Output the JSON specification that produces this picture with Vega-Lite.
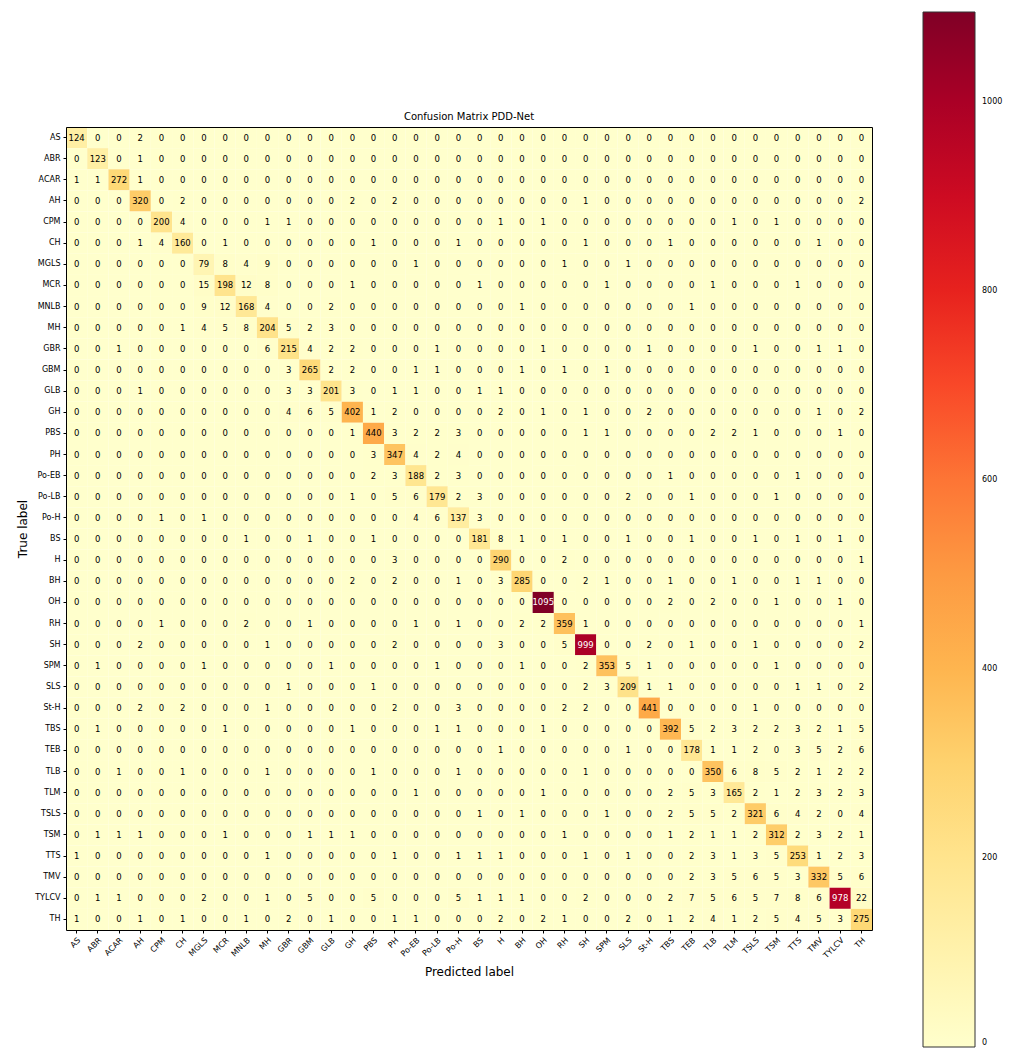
{
"$schema": "https://vega.github.io/schema/vega-lite/v6.json",
"width": 806,
"height": 803,
"autosize": "none",
"padding": {"left": 66, "top": 127, "right": 138, "bottom": 120},
"background": "white",
"title": {"text": "Confusion Matrix PDD-Net", "frame": "group", "fontSize": 10, "fontWeight": "normal", "color": "black", "font": "DejaVu Sans", "offset": 4, "dy": 114},
"data": {"values": [
{"t":"AS","p":"AS","v":124},{"t":"AS","p":"ABR","v":0},{"t":"AS","p":"ACAR","v":0},{"t":"AS","p":"AH","v":2},{"t":"AS","p":"CPM","v":0},{"t":"AS","p":"CH","v":0},{"t":"AS","p":"MGLS","v":0},{"t":"AS","p":"MCR","v":0},{"t":"AS","p":"MNLB","v":0},{"t":"AS","p":"MH","v":0},{"t":"AS","p":"GBR","v":0},{"t":"AS","p":"GBM","v":0},{"t":"AS","p":"GLB","v":0},{"t":"AS","p":"GH","v":0},{"t":"AS","p":"PBS","v":0},{"t":"AS","p":"PH","v":0},{"t":"AS","p":"Po-EB","v":0},{"t":"AS","p":"Po-LB","v":0},{"t":"AS","p":"Po-H","v":0},{"t":"AS","p":"BS","v":0},{"t":"AS","p":"H","v":0},{"t":"AS","p":"BH","v":0},{"t":"AS","p":"OH","v":0},{"t":"AS","p":"RH","v":0},{"t":"AS","p":"SH","v":0},{"t":"AS","p":"SPM","v":0},{"t":"AS","p":"SLS","v":0},{"t":"AS","p":"St-H","v":0},{"t":"AS","p":"TBS","v":0},{"t":"AS","p":"TEB","v":0},{"t":"AS","p":"TLB","v":0},{"t":"AS","p":"TLM","v":0},{"t":"AS","p":"TSLS","v":0},{"t":"AS","p":"TSM","v":0},{"t":"AS","p":"TTS","v":0},{"t":"AS","p":"TMV","v":0},{"t":"AS","p":"TYLCV","v":0},{"t":"AS","p":"TH","v":0},
{"t":"ABR","p":"AS","v":0},{"t":"ABR","p":"ABR","v":123},{"t":"ABR","p":"ACAR","v":0},{"t":"ABR","p":"AH","v":1},{"t":"ABR","p":"CPM","v":0},{"t":"ABR","p":"CH","v":0},{"t":"ABR","p":"MGLS","v":0},{"t":"ABR","p":"MCR","v":0},{"t":"ABR","p":"MNLB","v":0},{"t":"ABR","p":"MH","v":0},{"t":"ABR","p":"GBR","v":0},{"t":"ABR","p":"GBM","v":0},{"t":"ABR","p":"GLB","v":0},{"t":"ABR","p":"GH","v":0},{"t":"ABR","p":"PBS","v":0},{"t":"ABR","p":"PH","v":0},{"t":"ABR","p":"Po-EB","v":0},{"t":"ABR","p":"Po-LB","v":0},{"t":"ABR","p":"Po-H","v":0},{"t":"ABR","p":"BS","v":0},{"t":"ABR","p":"H","v":0},{"t":"ABR","p":"BH","v":0},{"t":"ABR","p":"OH","v":0},{"t":"ABR","p":"RH","v":0},{"t":"ABR","p":"SH","v":0},{"t":"ABR","p":"SPM","v":0},{"t":"ABR","p":"SLS","v":0},{"t":"ABR","p":"St-H","v":0},{"t":"ABR","p":"TBS","v":0},{"t":"ABR","p":"TEB","v":0},{"t":"ABR","p":"TLB","v":0},{"t":"ABR","p":"TLM","v":0},{"t":"ABR","p":"TSLS","v":0},{"t":"ABR","p":"TSM","v":0},{"t":"ABR","p":"TTS","v":0},{"t":"ABR","p":"TMV","v":0},{"t":"ABR","p":"TYLCV","v":0},{"t":"ABR","p":"TH","v":0},
{"t":"ACAR","p":"AS","v":1},{"t":"ACAR","p":"ABR","v":1},{"t":"ACAR","p":"ACAR","v":272},{"t":"ACAR","p":"AH","v":1},{"t":"ACAR","p":"CPM","v":0},{"t":"ACAR","p":"CH","v":0},{"t":"ACAR","p":"MGLS","v":0},{"t":"ACAR","p":"MCR","v":0},{"t":"ACAR","p":"MNLB","v":0},{"t":"ACAR","p":"MH","v":0},{"t":"ACAR","p":"GBR","v":0},{"t":"ACAR","p":"GBM","v":0},{"t":"ACAR","p":"GLB","v":0},{"t":"ACAR","p":"GH","v":0},{"t":"ACAR","p":"PBS","v":0},{"t":"ACAR","p":"PH","v":0},{"t":"ACAR","p":"Po-EB","v":0},{"t":"ACAR","p":"Po-LB","v":0},{"t":"ACAR","p":"Po-H","v":0},{"t":"ACAR","p":"BS","v":0},{"t":"ACAR","p":"H","v":0},{"t":"ACAR","p":"BH","v":0},{"t":"ACAR","p":"OH","v":0},{"t":"ACAR","p":"RH","v":0},{"t":"ACAR","p":"SH","v":0},{"t":"ACAR","p":"SPM","v":0},{"t":"ACAR","p":"SLS","v":0},{"t":"ACAR","p":"St-H","v":0},{"t":"ACAR","p":"TBS","v":0},{"t":"ACAR","p":"TEB","v":0},{"t":"ACAR","p":"TLB","v":0},{"t":"ACAR","p":"TLM","v":0},{"t":"ACAR","p":"TSLS","v":0},{"t":"ACAR","p":"TSM","v":0},{"t":"ACAR","p":"TTS","v":0},{"t":"ACAR","p":"TMV","v":0},{"t":"ACAR","p":"TYLCV","v":0},{"t":"ACAR","p":"TH","v":0},
{"t":"AH","p":"AS","v":0},{"t":"AH","p":"ABR","v":0},{"t":"AH","p":"ACAR","v":0},{"t":"AH","p":"AH","v":320},{"t":"AH","p":"CPM","v":0},{"t":"AH","p":"CH","v":2},{"t":"AH","p":"MGLS","v":0},{"t":"AH","p":"MCR","v":0},{"t":"AH","p":"MNLB","v":0},{"t":"AH","p":"MH","v":0},{"t":"AH","p":"GBR","v":0},{"t":"AH","p":"GBM","v":0},{"t":"AH","p":"GLB","v":0},{"t":"AH","p":"GH","v":2},{"t":"AH","p":"PBS","v":0},{"t":"AH","p":"PH","v":2},{"t":"AH","p":"Po-EB","v":0},{"t":"AH","p":"Po-LB","v":0},{"t":"AH","p":"Po-H","v":0},{"t":"AH","p":"BS","v":0},{"t":"AH","p":"H","v":0},{"t":"AH","p":"BH","v":0},{"t":"AH","p":"OH","v":0},{"t":"AH","p":"RH","v":0},{"t":"AH","p":"SH","v":1},{"t":"AH","p":"SPM","v":0},{"t":"AH","p":"SLS","v":0},{"t":"AH","p":"St-H","v":0},{"t":"AH","p":"TBS","v":0},{"t":"AH","p":"TEB","v":0},{"t":"AH","p":"TLB","v":0},{"t":"AH","p":"TLM","v":0},{"t":"AH","p":"TSLS","v":0},{"t":"AH","p":"TSM","v":0},{"t":"AH","p":"TTS","v":0},{"t":"AH","p":"TMV","v":0},{"t":"AH","p":"TYLCV","v":0},{"t":"AH","p":"TH","v":2},
{"t":"CPM","p":"AS","v":0},{"t":"CPM","p":"ABR","v":0},{"t":"CPM","p":"ACAR","v":0},{"t":"CPM","p":"AH","v":0},{"t":"CPM","p":"CPM","v":200},{"t":"CPM","p":"CH","v":4},{"t":"CPM","p":"MGLS","v":0},{"t":"CPM","p":"MCR","v":0},{"t":"CPM","p":"MNLB","v":0},{"t":"CPM","p":"MH","v":1},{"t":"CPM","p":"GBR","v":1},{"t":"CPM","p":"GBM","v":0},{"t":"CPM","p":"GLB","v":0},{"t":"CPM","p":"GH","v":0},{"t":"CPM","p":"PBS","v":0},{"t":"CPM","p":"PH","v":0},{"t":"CPM","p":"Po-EB","v":0},{"t":"CPM","p":"Po-LB","v":0},{"t":"CPM","p":"Po-H","v":0},{"t":"CPM","p":"BS","v":0},{"t":"CPM","p":"H","v":1},{"t":"CPM","p":"BH","v":0},{"t":"CPM","p":"OH","v":1},{"t":"CPM","p":"RH","v":0},{"t":"CPM","p":"SH","v":0},{"t":"CPM","p":"SPM","v":0},{"t":"CPM","p":"SLS","v":0},{"t":"CPM","p":"St-H","v":0},{"t":"CPM","p":"TBS","v":0},{"t":"CPM","p":"TEB","v":0},{"t":"CPM","p":"TLB","v":0},{"t":"CPM","p":"TLM","v":1},{"t":"CPM","p":"TSLS","v":0},{"t":"CPM","p":"TSM","v":1},{"t":"CPM","p":"TTS","v":0},{"t":"CPM","p":"TMV","v":0},{"t":"CPM","p":"TYLCV","v":0},{"t":"CPM","p":"TH","v":0},
{"t":"CH","p":"AS","v":0},{"t":"CH","p":"ABR","v":0},{"t":"CH","p":"ACAR","v":0},{"t":"CH","p":"AH","v":1},{"t":"CH","p":"CPM","v":4},{"t":"CH","p":"CH","v":160},{"t":"CH","p":"MGLS","v":0},{"t":"CH","p":"MCR","v":1},{"t":"CH","p":"MNLB","v":0},{"t":"CH","p":"MH","v":0},{"t":"CH","p":"GBR","v":0},{"t":"CH","p":"GBM","v":0},{"t":"CH","p":"GLB","v":0},{"t":"CH","p":"GH","v":0},{"t":"CH","p":"PBS","v":1},{"t":"CH","p":"PH","v":0},{"t":"CH","p":"Po-EB","v":0},{"t":"CH","p":"Po-LB","v":0},{"t":"CH","p":"Po-H","v":1},{"t":"CH","p":"BS","v":0},{"t":"CH","p":"H","v":0},{"t":"CH","p":"BH","v":0},{"t":"CH","p":"OH","v":0},{"t":"CH","p":"RH","v":0},{"t":"CH","p":"SH","v":1},{"t":"CH","p":"SPM","v":0},{"t":"CH","p":"SLS","v":0},{"t":"CH","p":"St-H","v":0},{"t":"CH","p":"TBS","v":1},{"t":"CH","p":"TEB","v":0},{"t":"CH","p":"TLB","v":0},{"t":"CH","p":"TLM","v":0},{"t":"CH","p":"TSLS","v":0},{"t":"CH","p":"TSM","v":0},{"t":"CH","p":"TTS","v":0},{"t":"CH","p":"TMV","v":1},{"t":"CH","p":"TYLCV","v":0},{"t":"CH","p":"TH","v":0},
{"t":"MGLS","p":"AS","v":0},{"t":"MGLS","p":"ABR","v":0},{"t":"MGLS","p":"ACAR","v":0},{"t":"MGLS","p":"AH","v":0},{"t":"MGLS","p":"CPM","v":0},{"t":"MGLS","p":"CH","v":0},{"t":"MGLS","p":"MGLS","v":79},{"t":"MGLS","p":"MCR","v":8},{"t":"MGLS","p":"MNLB","v":4},{"t":"MGLS","p":"MH","v":9},{"t":"MGLS","p":"GBR","v":0},{"t":"MGLS","p":"GBM","v":0},{"t":"MGLS","p":"GLB","v":0},{"t":"MGLS","p":"GH","v":0},{"t":"MGLS","p":"PBS","v":0},{"t":"MGLS","p":"PH","v":0},{"t":"MGLS","p":"Po-EB","v":1},{"t":"MGLS","p":"Po-LB","v":0},{"t":"MGLS","p":"Po-H","v":0},{"t":"MGLS","p":"BS","v":0},{"t":"MGLS","p":"H","v":0},{"t":"MGLS","p":"BH","v":0},{"t":"MGLS","p":"OH","v":0},{"t":"MGLS","p":"RH","v":1},{"t":"MGLS","p":"SH","v":0},{"t":"MGLS","p":"SPM","v":0},{"t":"MGLS","p":"SLS","v":1},{"t":"MGLS","p":"St-H","v":0},{"t":"MGLS","p":"TBS","v":0},{"t":"MGLS","p":"TEB","v":0},{"t":"MGLS","p":"TLB","v":0},{"t":"MGLS","p":"TLM","v":0},{"t":"MGLS","p":"TSLS","v":0},{"t":"MGLS","p":"TSM","v":0},{"t":"MGLS","p":"TTS","v":0},{"t":"MGLS","p":"TMV","v":0},{"t":"MGLS","p":"TYLCV","v":0},{"t":"MGLS","p":"TH","v":0},
{"t":"MCR","p":"AS","v":0},{"t":"MCR","p":"ABR","v":0},{"t":"MCR","p":"ACAR","v":0},{"t":"MCR","p":"AH","v":0},{"t":"MCR","p":"CPM","v":0},{"t":"MCR","p":"CH","v":0},{"t":"MCR","p":"MGLS","v":15},{"t":"MCR","p":"MCR","v":198},{"t":"MCR","p":"MNLB","v":12},{"t":"MCR","p":"MH","v":8},{"t":"MCR","p":"GBR","v":0},{"t":"MCR","p":"GBM","v":0},{"t":"MCR","p":"GLB","v":0},{"t":"MCR","p":"GH","v":1},{"t":"MCR","p":"PBS","v":0},{"t":"MCR","p":"PH","v":0},{"t":"MCR","p":"Po-EB","v":0},{"t":"MCR","p":"Po-LB","v":0},{"t":"MCR","p":"Po-H","v":0},{"t":"MCR","p":"BS","v":1},{"t":"MCR","p":"H","v":0},{"t":"MCR","p":"BH","v":0},{"t":"MCR","p":"OH","v":0},{"t":"MCR","p":"RH","v":0},{"t":"MCR","p":"SH","v":0},{"t":"MCR","p":"SPM","v":1},{"t":"MCR","p":"SLS","v":0},{"t":"MCR","p":"St-H","v":0},{"t":"MCR","p":"TBS","v":0},{"t":"MCR","p":"TEB","v":0},{"t":"MCR","p":"TLB","v":1},{"t":"MCR","p":"TLM","v":0},{"t":"MCR","p":"TSLS","v":0},{"t":"MCR","p":"TSM","v":0},{"t":"MCR","p":"TTS","v":1},{"t":"MCR","p":"TMV","v":0},{"t":"MCR","p":"TYLCV","v":0},{"t":"MCR","p":"TH","v":0},
{"t":"MNLB","p":"AS","v":0},{"t":"MNLB","p":"ABR","v":0},{"t":"MNLB","p":"ACAR","v":0},{"t":"MNLB","p":"AH","v":0},{"t":"MNLB","p":"CPM","v":0},{"t":"MNLB","p":"CH","v":0},{"t":"MNLB","p":"MGLS","v":9},{"t":"MNLB","p":"MCR","v":12},{"t":"MNLB","p":"MNLB","v":168},{"t":"MNLB","p":"MH","v":4},{"t":"MNLB","p":"GBR","v":0},{"t":"MNLB","p":"GBM","v":0},{"t":"MNLB","p":"GLB","v":2},{"t":"MNLB","p":"GH","v":0},{"t":"MNLB","p":"PBS","v":0},{"t":"MNLB","p":"PH","v":0},{"t":"MNLB","p":"Po-EB","v":0},{"t":"MNLB","p":"Po-LB","v":0},{"t":"MNLB","p":"Po-H","v":0},{"t":"MNLB","p":"BS","v":0},{"t":"MNLB","p":"H","v":0},{"t":"MNLB","p":"BH","v":1},{"t":"MNLB","p":"OH","v":0},{"t":"MNLB","p":"RH","v":0},{"t":"MNLB","p":"SH","v":0},{"t":"MNLB","p":"SPM","v":0},{"t":"MNLB","p":"SLS","v":0},{"t":"MNLB","p":"St-H","v":0},{"t":"MNLB","p":"TBS","v":0},{"t":"MNLB","p":"TEB","v":1},{"t":"MNLB","p":"TLB","v":0},{"t":"MNLB","p":"TLM","v":0},{"t":"MNLB","p":"TSLS","v":0},{"t":"MNLB","p":"TSM","v":0},{"t":"MNLB","p":"TTS","v":0},{"t":"MNLB","p":"TMV","v":0},{"t":"MNLB","p":"TYLCV","v":0},{"t":"MNLB","p":"TH","v":0},
{"t":"MH","p":"AS","v":0},{"t":"MH","p":"ABR","v":0},{"t":"MH","p":"ACAR","v":0},{"t":"MH","p":"AH","v":0},{"t":"MH","p":"CPM","v":0},{"t":"MH","p":"CH","v":1},{"t":"MH","p":"MGLS","v":4},{"t":"MH","p":"MCR","v":5},{"t":"MH","p":"MNLB","v":8},{"t":"MH","p":"MH","v":204},{"t":"MH","p":"GBR","v":5},{"t":"MH","p":"GBM","v":2},{"t":"MH","p":"GLB","v":3},{"t":"MH","p":"GH","v":0},{"t":"MH","p":"PBS","v":0},{"t":"MH","p":"PH","v":0},{"t":"MH","p":"Po-EB","v":0},{"t":"MH","p":"Po-LB","v":0},{"t":"MH","p":"Po-H","v":0},{"t":"MH","p":"BS","v":0},{"t":"MH","p":"H","v":0},{"t":"MH","p":"BH","v":0},{"t":"MH","p":"OH","v":0},{"t":"MH","p":"RH","v":0},{"t":"MH","p":"SH","v":0},{"t":"MH","p":"SPM","v":0},{"t":"MH","p":"SLS","v":0},{"t":"MH","p":"St-H","v":0},{"t":"MH","p":"TBS","v":0},{"t":"MH","p":"TEB","v":0},{"t":"MH","p":"TLB","v":0},{"t":"MH","p":"TLM","v":0},{"t":"MH","p":"TSLS","v":0},{"t":"MH","p":"TSM","v":0},{"t":"MH","p":"TTS","v":0},{"t":"MH","p":"TMV","v":0},{"t":"MH","p":"TYLCV","v":0},{"t":"MH","p":"TH","v":0},
{"t":"GBR","p":"AS","v":0},{"t":"GBR","p":"ABR","v":0},{"t":"GBR","p":"ACAR","v":1},{"t":"GBR","p":"AH","v":0},{"t":"GBR","p":"CPM","v":0},{"t":"GBR","p":"CH","v":0},{"t":"GBR","p":"MGLS","v":0},{"t":"GBR","p":"MCR","v":0},{"t":"GBR","p":"MNLB","v":0},{"t":"GBR","p":"MH","v":6},{"t":"GBR","p":"GBR","v":215},{"t":"GBR","p":"GBM","v":4},{"t":"GBR","p":"GLB","v":2},{"t":"GBR","p":"GH","v":2},{"t":"GBR","p":"PBS","v":0},{"t":"GBR","p":"PH","v":0},{"t":"GBR","p":"Po-EB","v":0},{"t":"GBR","p":"Po-LB","v":1},{"t":"GBR","p":"Po-H","v":0},{"t":"GBR","p":"BS","v":0},{"t":"GBR","p":"H","v":0},{"t":"GBR","p":"BH","v":0},{"t":"GBR","p":"OH","v":1},{"t":"GBR","p":"RH","v":0},{"t":"GBR","p":"SH","v":0},{"t":"GBR","p":"SPM","v":0},{"t":"GBR","p":"SLS","v":0},{"t":"GBR","p":"St-H","v":1},{"t":"GBR","p":"TBS","v":0},{"t":"GBR","p":"TEB","v":0},{"t":"GBR","p":"TLB","v":0},{"t":"GBR","p":"TLM","v":0},{"t":"GBR","p":"TSLS","v":1},{"t":"GBR","p":"TSM","v":0},{"t":"GBR","p":"TTS","v":0},{"t":"GBR","p":"TMV","v":1},{"t":"GBR","p":"TYLCV","v":1},{"t":"GBR","p":"TH","v":0},
{"t":"GBM","p":"AS","v":0},{"t":"GBM","p":"ABR","v":0},{"t":"GBM","p":"ACAR","v":0},{"t":"GBM","p":"AH","v":0},{"t":"GBM","p":"CPM","v":0},{"t":"GBM","p":"CH","v":0},{"t":"GBM","p":"MGLS","v":0},{"t":"GBM","p":"MCR","v":0},{"t":"GBM","p":"MNLB","v":0},{"t":"GBM","p":"MH","v":0},{"t":"GBM","p":"GBR","v":3},{"t":"GBM","p":"GBM","v":265},{"t":"GBM","p":"GLB","v":2},{"t":"GBM","p":"GH","v":2},{"t":"GBM","p":"PBS","v":0},{"t":"GBM","p":"PH","v":0},{"t":"GBM","p":"Po-EB","v":1},{"t":"GBM","p":"Po-LB","v":1},{"t":"GBM","p":"Po-H","v":0},{"t":"GBM","p":"BS","v":0},{"t":"GBM","p":"H","v":0},{"t":"GBM","p":"BH","v":1},{"t":"GBM","p":"OH","v":0},{"t":"GBM","p":"RH","v":1},{"t":"GBM","p":"SH","v":0},{"t":"GBM","p":"SPM","v":1},{"t":"GBM","p":"SLS","v":0},{"t":"GBM","p":"St-H","v":0},{"t":"GBM","p":"TBS","v":0},{"t":"GBM","p":"TEB","v":0},{"t":"GBM","p":"TLB","v":0},{"t":"GBM","p":"TLM","v":0},{"t":"GBM","p":"TSLS","v":0},{"t":"GBM","p":"TSM","v":0},{"t":"GBM","p":"TTS","v":0},{"t":"GBM","p":"TMV","v":0},{"t":"GBM","p":"TYLCV","v":0},{"t":"GBM","p":"TH","v":0},
{"t":"GLB","p":"AS","v":0},{"t":"GLB","p":"ABR","v":0},{"t":"GLB","p":"ACAR","v":0},{"t":"GLB","p":"AH","v":1},{"t":"GLB","p":"CPM","v":0},{"t":"GLB","p":"CH","v":0},{"t":"GLB","p":"MGLS","v":0},{"t":"GLB","p":"MCR","v":0},{"t":"GLB","p":"MNLB","v":0},{"t":"GLB","p":"MH","v":0},{"t":"GLB","p":"GBR","v":3},{"t":"GLB","p":"GBM","v":3},{"t":"GLB","p":"GLB","v":201},{"t":"GLB","p":"GH","v":3},{"t":"GLB","p":"PBS","v":0},{"t":"GLB","p":"PH","v":1},{"t":"GLB","p":"Po-EB","v":1},{"t":"GLB","p":"Po-LB","v":0},{"t":"GLB","p":"Po-H","v":0},{"t":"GLB","p":"BS","v":1},{"t":"GLB","p":"H","v":1},{"t":"GLB","p":"BH","v":0},{"t":"GLB","p":"OH","v":0},{"t":"GLB","p":"RH","v":0},{"t":"GLB","p":"SH","v":0},{"t":"GLB","p":"SPM","v":0},{"t":"GLB","p":"SLS","v":0},{"t":"GLB","p":"St-H","v":0},{"t":"GLB","p":"TBS","v":0},{"t":"GLB","p":"TEB","v":0},{"t":"GLB","p":"TLB","v":0},{"t":"GLB","p":"TLM","v":0},{"t":"GLB","p":"TSLS","v":0},{"t":"GLB","p":"TSM","v":0},{"t":"GLB","p":"TTS","v":0},{"t":"GLB","p":"TMV","v":0},{"t":"GLB","p":"TYLCV","v":0},{"t":"GLB","p":"TH","v":0},
{"t":"GH","p":"AS","v":0},{"t":"GH","p":"ABR","v":0},{"t":"GH","p":"ACAR","v":0},{"t":"GH","p":"AH","v":0},{"t":"GH","p":"CPM","v":0},{"t":"GH","p":"CH","v":0},{"t":"GH","p":"MGLS","v":0},{"t":"GH","p":"MCR","v":0},{"t":"GH","p":"MNLB","v":0},{"t":"GH","p":"MH","v":0},{"t":"GH","p":"GBR","v":4},{"t":"GH","p":"GBM","v":6},{"t":"GH","p":"GLB","v":5},{"t":"GH","p":"GH","v":402},{"t":"GH","p":"PBS","v":1},{"t":"GH","p":"PH","v":2},{"t":"GH","p":"Po-EB","v":0},{"t":"GH","p":"Po-LB","v":0},{"t":"GH","p":"Po-H","v":0},{"t":"GH","p":"BS","v":0},{"t":"GH","p":"H","v":2},{"t":"GH","p":"BH","v":0},{"t":"GH","p":"OH","v":1},{"t":"GH","p":"RH","v":0},{"t":"GH","p":"SH","v":1},{"t":"GH","p":"SPM","v":0},{"t":"GH","p":"SLS","v":0},{"t":"GH","p":"St-H","v":2},{"t":"GH","p":"TBS","v":0},{"t":"GH","p":"TEB","v":0},{"t":"GH","p":"TLB","v":0},{"t":"GH","p":"TLM","v":0},{"t":"GH","p":"TSLS","v":0},{"t":"GH","p":"TSM","v":0},{"t":"GH","p":"TTS","v":0},{"t":"GH","p":"TMV","v":1},{"t":"GH","p":"TYLCV","v":0},{"t":"GH","p":"TH","v":2},
{"t":"PBS","p":"AS","v":0},{"t":"PBS","p":"ABR","v":0},{"t":"PBS","p":"ACAR","v":0},{"t":"PBS","p":"AH","v":0},{"t":"PBS","p":"CPM","v":0},{"t":"PBS","p":"CH","v":0},{"t":"PBS","p":"MGLS","v":0},{"t":"PBS","p":"MCR","v":0},{"t":"PBS","p":"MNLB","v":0},{"t":"PBS","p":"MH","v":0},{"t":"PBS","p":"GBR","v":0},{"t":"PBS","p":"GBM","v":0},{"t":"PBS","p":"GLB","v":0},{"t":"PBS","p":"GH","v":1},{"t":"PBS","p":"PBS","v":440},{"t":"PBS","p":"PH","v":3},{"t":"PBS","p":"Po-EB","v":2},{"t":"PBS","p":"Po-LB","v":2},{"t":"PBS","p":"Po-H","v":3},{"t":"PBS","p":"BS","v":0},{"t":"PBS","p":"H","v":0},{"t":"PBS","p":"BH","v":0},{"t":"PBS","p":"OH","v":0},{"t":"PBS","p":"RH","v":0},{"t":"PBS","p":"SH","v":1},{"t":"PBS","p":"SPM","v":1},{"t":"PBS","p":"SLS","v":0},{"t":"PBS","p":"St-H","v":0},{"t":"PBS","p":"TBS","v":0},{"t":"PBS","p":"TEB","v":0},{"t":"PBS","p":"TLB","v":2},{"t":"PBS","p":"TLM","v":2},{"t":"PBS","p":"TSLS","v":1},{"t":"PBS","p":"TSM","v":0},{"t":"PBS","p":"TTS","v":0},{"t":"PBS","p":"TMV","v":0},{"t":"PBS","p":"TYLCV","v":1},{"t":"PBS","p":"TH","v":0},
{"t":"PH","p":"AS","v":0},{"t":"PH","p":"ABR","v":0},{"t":"PH","p":"ACAR","v":0},{"t":"PH","p":"AH","v":0},{"t":"PH","p":"CPM","v":0},{"t":"PH","p":"CH","v":0},{"t":"PH","p":"MGLS","v":0},{"t":"PH","p":"MCR","v":0},{"t":"PH","p":"MNLB","v":0},{"t":"PH","p":"MH","v":0},{"t":"PH","p":"GBR","v":0},{"t":"PH","p":"GBM","v":0},{"t":"PH","p":"GLB","v":0},{"t":"PH","p":"GH","v":0},{"t":"PH","p":"PBS","v":3},{"t":"PH","p":"PH","v":347},{"t":"PH","p":"Po-EB","v":4},{"t":"PH","p":"Po-LB","v":2},{"t":"PH","p":"Po-H","v":4},{"t":"PH","p":"BS","v":0},{"t":"PH","p":"H","v":0},{"t":"PH","p":"BH","v":0},{"t":"PH","p":"OH","v":0},{"t":"PH","p":"RH","v":0},{"t":"PH","p":"SH","v":0},{"t":"PH","p":"SPM","v":0},{"t":"PH","p":"SLS","v":0},{"t":"PH","p":"St-H","v":0},{"t":"PH","p":"TBS","v":0},{"t":"PH","p":"TEB","v":0},{"t":"PH","p":"TLB","v":0},{"t":"PH","p":"TLM","v":0},{"t":"PH","p":"TSLS","v":0},{"t":"PH","p":"TSM","v":0},{"t":"PH","p":"TTS","v":0},{"t":"PH","p":"TMV","v":0},{"t":"PH","p":"TYLCV","v":0},{"t":"PH","p":"TH","v":0},
{"t":"Po-EB","p":"AS","v":0},{"t":"Po-EB","p":"ABR","v":0},{"t":"Po-EB","p":"ACAR","v":0},{"t":"Po-EB","p":"AH","v":0},{"t":"Po-EB","p":"CPM","v":0},{"t":"Po-EB","p":"CH","v":0},{"t":"Po-EB","p":"MGLS","v":0},{"t":"Po-EB","p":"MCR","v":0},{"t":"Po-EB","p":"MNLB","v":0},{"t":"Po-EB","p":"MH","v":0},{"t":"Po-EB","p":"GBR","v":0},{"t":"Po-EB","p":"GBM","v":0},{"t":"Po-EB","p":"GLB","v":0},{"t":"Po-EB","p":"GH","v":0},{"t":"Po-EB","p":"PBS","v":2},{"t":"Po-EB","p":"PH","v":3},{"t":"Po-EB","p":"Po-EB","v":188},{"t":"Po-EB","p":"Po-LB","v":2},{"t":"Po-EB","p":"Po-H","v":3},{"t":"Po-EB","p":"BS","v":0},{"t":"Po-EB","p":"H","v":0},{"t":"Po-EB","p":"BH","v":0},{"t":"Po-EB","p":"OH","v":0},{"t":"Po-EB","p":"RH","v":0},{"t":"Po-EB","p":"SH","v":0},{"t":"Po-EB","p":"SPM","v":0},{"t":"Po-EB","p":"SLS","v":0},{"t":"Po-EB","p":"St-H","v":0},{"t":"Po-EB","p":"TBS","v":1},{"t":"Po-EB","p":"TEB","v":0},{"t":"Po-EB","p":"TLB","v":0},{"t":"Po-EB","p":"TLM","v":0},{"t":"Po-EB","p":"TSLS","v":0},{"t":"Po-EB","p":"TSM","v":0},{"t":"Po-EB","p":"TTS","v":1},{"t":"Po-EB","p":"TMV","v":0},{"t":"Po-EB","p":"TYLCV","v":0},{"t":"Po-EB","p":"TH","v":0},
{"t":"Po-LB","p":"AS","v":0},{"t":"Po-LB","p":"ABR","v":0},{"t":"Po-LB","p":"ACAR","v":0},{"t":"Po-LB","p":"AH","v":0},{"t":"Po-LB","p":"CPM","v":0},{"t":"Po-LB","p":"CH","v":0},{"t":"Po-LB","p":"MGLS","v":0},{"t":"Po-LB","p":"MCR","v":0},{"t":"Po-LB","p":"MNLB","v":0},{"t":"Po-LB","p":"MH","v":0},{"t":"Po-LB","p":"GBR","v":0},{"t":"Po-LB","p":"GBM","v":0},{"t":"Po-LB","p":"GLB","v":0},{"t":"Po-LB","p":"GH","v":1},{"t":"Po-LB","p":"PBS","v":0},{"t":"Po-LB","p":"PH","v":5},{"t":"Po-LB","p":"Po-EB","v":6},{"t":"Po-LB","p":"Po-LB","v":179},{"t":"Po-LB","p":"Po-H","v":2},{"t":"Po-LB","p":"BS","v":3},{"t":"Po-LB","p":"H","v":0},{"t":"Po-LB","p":"BH","v":0},{"t":"Po-LB","p":"OH","v":0},{"t":"Po-LB","p":"RH","v":0},{"t":"Po-LB","p":"SH","v":0},{"t":"Po-LB","p":"SPM","v":0},{"t":"Po-LB","p":"SLS","v":2},{"t":"Po-LB","p":"St-H","v":0},{"t":"Po-LB","p":"TBS","v":0},{"t":"Po-LB","p":"TEB","v":1},{"t":"Po-LB","p":"TLB","v":0},{"t":"Po-LB","p":"TLM","v":0},{"t":"Po-LB","p":"TSLS","v":0},{"t":"Po-LB","p":"TSM","v":1},{"t":"Po-LB","p":"TTS","v":0},{"t":"Po-LB","p":"TMV","v":0},{"t":"Po-LB","p":"TYLCV","v":0},{"t":"Po-LB","p":"TH","v":0},
{"t":"Po-H","p":"AS","v":0},{"t":"Po-H","p":"ABR","v":0},{"t":"Po-H","p":"ACAR","v":0},{"t":"Po-H","p":"AH","v":0},{"t":"Po-H","p":"CPM","v":1},{"t":"Po-H","p":"CH","v":0},{"t":"Po-H","p":"MGLS","v":1},{"t":"Po-H","p":"MCR","v":0},{"t":"Po-H","p":"MNLB","v":0},{"t":"Po-H","p":"MH","v":0},{"t":"Po-H","p":"GBR","v":0},{"t":"Po-H","p":"GBM","v":0},{"t":"Po-H","p":"GLB","v":0},{"t":"Po-H","p":"GH","v":0},{"t":"Po-H","p":"PBS","v":0},{"t":"Po-H","p":"PH","v":0},{"t":"Po-H","p":"Po-EB","v":4},{"t":"Po-H","p":"Po-LB","v":6},{"t":"Po-H","p":"Po-H","v":137},{"t":"Po-H","p":"BS","v":3},{"t":"Po-H","p":"H","v":0},{"t":"Po-H","p":"BH","v":0},{"t":"Po-H","p":"OH","v":0},{"t":"Po-H","p":"RH","v":0},{"t":"Po-H","p":"SH","v":0},{"t":"Po-H","p":"SPM","v":0},{"t":"Po-H","p":"SLS","v":0},{"t":"Po-H","p":"St-H","v":0},{"t":"Po-H","p":"TBS","v":0},{"t":"Po-H","p":"TEB","v":0},{"t":"Po-H","p":"TLB","v":0},{"t":"Po-H","p":"TLM","v":0},{"t":"Po-H","p":"TSLS","v":0},{"t":"Po-H","p":"TSM","v":0},{"t":"Po-H","p":"TTS","v":0},{"t":"Po-H","p":"TMV","v":0},{"t":"Po-H","p":"TYLCV","v":0},{"t":"Po-H","p":"TH","v":0},
{"t":"BS","p":"AS","v":0},{"t":"BS","p":"ABR","v":0},{"t":"BS","p":"ACAR","v":0},{"t":"BS","p":"AH","v":0},{"t":"BS","p":"CPM","v":0},{"t":"BS","p":"CH","v":0},{"t":"BS","p":"MGLS","v":0},{"t":"BS","p":"MCR","v":0},{"t":"BS","p":"MNLB","v":1},{"t":"BS","p":"MH","v":0},{"t":"BS","p":"GBR","v":0},{"t":"BS","p":"GBM","v":1},{"t":"BS","p":"GLB","v":0},{"t":"BS","p":"GH","v":0},{"t":"BS","p":"PBS","v":1},{"t":"BS","p":"PH","v":0},{"t":"BS","p":"Po-EB","v":0},{"t":"BS","p":"Po-LB","v":0},{"t":"BS","p":"Po-H","v":0},{"t":"BS","p":"BS","v":181},{"t":"BS","p":"H","v":8},{"t":"BS","p":"BH","v":1},{"t":"BS","p":"OH","v":0},{"t":"BS","p":"RH","v":1},{"t":"BS","p":"SH","v":0},{"t":"BS","p":"SPM","v":0},{"t":"BS","p":"SLS","v":1},{"t":"BS","p":"St-H","v":0},{"t":"BS","p":"TBS","v":0},{"t":"BS","p":"TEB","v":1},{"t":"BS","p":"TLB","v":0},{"t":"BS","p":"TLM","v":0},{"t":"BS","p":"TSLS","v":1},{"t":"BS","p":"TSM","v":0},{"t":"BS","p":"TTS","v":1},{"t":"BS","p":"TMV","v":0},{"t":"BS","p":"TYLCV","v":1},{"t":"BS","p":"TH","v":0},
{"t":"H","p":"AS","v":0},{"t":"H","p":"ABR","v":0},{"t":"H","p":"ACAR","v":0},{"t":"H","p":"AH","v":0},{"t":"H","p":"CPM","v":0},{"t":"H","p":"CH","v":0},{"t":"H","p":"MGLS","v":0},{"t":"H","p":"MCR","v":0},{"t":"H","p":"MNLB","v":0},{"t":"H","p":"MH","v":0},{"t":"H","p":"GBR","v":0},{"t":"H","p":"GBM","v":0},{"t":"H","p":"GLB","v":0},{"t":"H","p":"GH","v":0},{"t":"H","p":"PBS","v":0},{"t":"H","p":"PH","v":3},{"t":"H","p":"Po-EB","v":0},{"t":"H","p":"Po-LB","v":0},{"t":"H","p":"Po-H","v":0},{"t":"H","p":"BS","v":0},{"t":"H","p":"H","v":290},{"t":"H","p":"BH","v":0},{"t":"H","p":"OH","v":0},{"t":"H","p":"RH","v":2},{"t":"H","p":"SH","v":0},{"t":"H","p":"SPM","v":0},{"t":"H","p":"SLS","v":0},{"t":"H","p":"St-H","v":0},{"t":"H","p":"TBS","v":0},{"t":"H","p":"TEB","v":0},{"t":"H","p":"TLB","v":0},{"t":"H","p":"TLM","v":0},{"t":"H","p":"TSLS","v":0},{"t":"H","p":"TSM","v":0},{"t":"H","p":"TTS","v":0},{"t":"H","p":"TMV","v":0},{"t":"H","p":"TYLCV","v":0},{"t":"H","p":"TH","v":1},
{"t":"BH","p":"AS","v":0},{"t":"BH","p":"ABR","v":0},{"t":"BH","p":"ACAR","v":0},{"t":"BH","p":"AH","v":0},{"t":"BH","p":"CPM","v":0},{"t":"BH","p":"CH","v":0},{"t":"BH","p":"MGLS","v":0},{"t":"BH","p":"MCR","v":0},{"t":"BH","p":"MNLB","v":0},{"t":"BH","p":"MH","v":0},{"t":"BH","p":"GBR","v":0},{"t":"BH","p":"GBM","v":0},{"t":"BH","p":"GLB","v":0},{"t":"BH","p":"GH","v":2},{"t":"BH","p":"PBS","v":0},{"t":"BH","p":"PH","v":2},{"t":"BH","p":"Po-EB","v":0},{"t":"BH","p":"Po-LB","v":0},{"t":"BH","p":"Po-H","v":1},{"t":"BH","p":"BS","v":0},{"t":"BH","p":"H","v":3},{"t":"BH","p":"BH","v":285},{"t":"BH","p":"OH","v":0},{"t":"BH","p":"RH","v":0},{"t":"BH","p":"SH","v":2},{"t":"BH","p":"SPM","v":1},{"t":"BH","p":"SLS","v":0},{"t":"BH","p":"St-H","v":0},{"t":"BH","p":"TBS","v":1},{"t":"BH","p":"TEB","v":0},{"t":"BH","p":"TLB","v":0},{"t":"BH","p":"TLM","v":1},{"t":"BH","p":"TSLS","v":0},{"t":"BH","p":"TSM","v":0},{"t":"BH","p":"TTS","v":1},{"t":"BH","p":"TMV","v":1},{"t":"BH","p":"TYLCV","v":0},{"t":"BH","p":"TH","v":0},
{"t":"OH","p":"AS","v":0},{"t":"OH","p":"ABR","v":0},{"t":"OH","p":"ACAR","v":0},{"t":"OH","p":"AH","v":0},{"t":"OH","p":"CPM","v":0},{"t":"OH","p":"CH","v":0},{"t":"OH","p":"MGLS","v":0},{"t":"OH","p":"MCR","v":0},{"t":"OH","p":"MNLB","v":0},{"t":"OH","p":"MH","v":0},{"t":"OH","p":"GBR","v":0},{"t":"OH","p":"GBM","v":0},{"t":"OH","p":"GLB","v":0},{"t":"OH","p":"GH","v":0},{"t":"OH","p":"PBS","v":0},{"t":"OH","p":"PH","v":0},{"t":"OH","p":"Po-EB","v":0},{"t":"OH","p":"Po-LB","v":0},{"t":"OH","p":"Po-H","v":0},{"t":"OH","p":"BS","v":0},{"t":"OH","p":"H","v":0},{"t":"OH","p":"BH","v":0},{"t":"OH","p":"OH","v":1095},{"t":"OH","p":"RH","v":0},{"t":"OH","p":"SH","v":0},{"t":"OH","p":"SPM","v":0},{"t":"OH","p":"SLS","v":0},{"t":"OH","p":"St-H","v":0},{"t":"OH","p":"TBS","v":2},{"t":"OH","p":"TEB","v":0},{"t":"OH","p":"TLB","v":2},{"t":"OH","p":"TLM","v":0},{"t":"OH","p":"TSLS","v":0},{"t":"OH","p":"TSM","v":1},{"t":"OH","p":"TTS","v":0},{"t":"OH","p":"TMV","v":0},{"t":"OH","p":"TYLCV","v":1},{"t":"OH","p":"TH","v":0},
{"t":"RH","p":"AS","v":0},{"t":"RH","p":"ABR","v":0},{"t":"RH","p":"ACAR","v":0},{"t":"RH","p":"AH","v":0},{"t":"RH","p":"CPM","v":1},{"t":"RH","p":"CH","v":0},{"t":"RH","p":"MGLS","v":0},{"t":"RH","p":"MCR","v":0},{"t":"RH","p":"MNLB","v":2},{"t":"RH","p":"MH","v":0},{"t":"RH","p":"GBR","v":0},{"t":"RH","p":"GBM","v":1},{"t":"RH","p":"GLB","v":0},{"t":"RH","p":"GH","v":0},{"t":"RH","p":"PBS","v":0},{"t":"RH","p":"PH","v":0},{"t":"RH","p":"Po-EB","v":1},{"t":"RH","p":"Po-LB","v":0},{"t":"RH","p":"Po-H","v":1},{"t":"RH","p":"BS","v":0},{"t":"RH","p":"H","v":0},{"t":"RH","p":"BH","v":2},{"t":"RH","p":"OH","v":2},{"t":"RH","p":"RH","v":359},{"t":"RH","p":"SH","v":1},{"t":"RH","p":"SPM","v":0},{"t":"RH","p":"SLS","v":0},{"t":"RH","p":"St-H","v":0},{"t":"RH","p":"TBS","v":0},{"t":"RH","p":"TEB","v":0},{"t":"RH","p":"TLB","v":0},{"t":"RH","p":"TLM","v":0},{"t":"RH","p":"TSLS","v":0},{"t":"RH","p":"TSM","v":0},{"t":"RH","p":"TTS","v":0},{"t":"RH","p":"TMV","v":0},{"t":"RH","p":"TYLCV","v":0},{"t":"RH","p":"TH","v":1},
{"t":"SH","p":"AS","v":0},{"t":"SH","p":"ABR","v":0},{"t":"SH","p":"ACAR","v":0},{"t":"SH","p":"AH","v":2},{"t":"SH","p":"CPM","v":0},{"t":"SH","p":"CH","v":0},{"t":"SH","p":"MGLS","v":0},{"t":"SH","p":"MCR","v":0},{"t":"SH","p":"MNLB","v":0},{"t":"SH","p":"MH","v":1},{"t":"SH","p":"GBR","v":0},{"t":"SH","p":"GBM","v":0},{"t":"SH","p":"GLB","v":0},{"t":"SH","p":"GH","v":0},{"t":"SH","p":"PBS","v":0},{"t":"SH","p":"PH","v":2},{"t":"SH","p":"Po-EB","v":0},{"t":"SH","p":"Po-LB","v":0},{"t":"SH","p":"Po-H","v":0},{"t":"SH","p":"BS","v":0},{"t":"SH","p":"H","v":3},{"t":"SH","p":"BH","v":0},{"t":"SH","p":"OH","v":0},{"t":"SH","p":"RH","v":5},{"t":"SH","p":"SH","v":999},{"t":"SH","p":"SPM","v":0},{"t":"SH","p":"SLS","v":0},{"t":"SH","p":"St-H","v":2},{"t":"SH","p":"TBS","v":0},{"t":"SH","p":"TEB","v":1},{"t":"SH","p":"TLB","v":0},{"t":"SH","p":"TLM","v":0},{"t":"SH","p":"TSLS","v":1},{"t":"SH","p":"TSM","v":0},{"t":"SH","p":"TTS","v":0},{"t":"SH","p":"TMV","v":0},{"t":"SH","p":"TYLCV","v":0},{"t":"SH","p":"TH","v":2},
{"t":"SPM","p":"AS","v":0},{"t":"SPM","p":"ABR","v":1},{"t":"SPM","p":"ACAR","v":0},{"t":"SPM","p":"AH","v":0},{"t":"SPM","p":"CPM","v":0},{"t":"SPM","p":"CH","v":0},{"t":"SPM","p":"MGLS","v":1},{"t":"SPM","p":"MCR","v":0},{"t":"SPM","p":"MNLB","v":0},{"t":"SPM","p":"MH","v":0},{"t":"SPM","p":"GBR","v":0},{"t":"SPM","p":"GBM","v":0},{"t":"SPM","p":"GLB","v":1},{"t":"SPM","p":"GH","v":0},{"t":"SPM","p":"PBS","v":0},{"t":"SPM","p":"PH","v":0},{"t":"SPM","p":"Po-EB","v":0},{"t":"SPM","p":"Po-LB","v":1},{"t":"SPM","p":"Po-H","v":0},{"t":"SPM","p":"BS","v":0},{"t":"SPM","p":"H","v":0},{"t":"SPM","p":"BH","v":1},{"t":"SPM","p":"OH","v":0},{"t":"SPM","p":"RH","v":0},{"t":"SPM","p":"SH","v":2},{"t":"SPM","p":"SPM","v":353},{"t":"SPM","p":"SLS","v":5},{"t":"SPM","p":"St-H","v":1},{"t":"SPM","p":"TBS","v":0},{"t":"SPM","p":"TEB","v":0},{"t":"SPM","p":"TLB","v":0},{"t":"SPM","p":"TLM","v":0},{"t":"SPM","p":"TSLS","v":0},{"t":"SPM","p":"TSM","v":1},{"t":"SPM","p":"TTS","v":0},{"t":"SPM","p":"TMV","v":0},{"t":"SPM","p":"TYLCV","v":0},{"t":"SPM","p":"TH","v":0},
{"t":"SLS","p":"AS","v":0},{"t":"SLS","p":"ABR","v":0},{"t":"SLS","p":"ACAR","v":0},{"t":"SLS","p":"AH","v":0},{"t":"SLS","p":"CPM","v":0},{"t":"SLS","p":"CH","v":0},{"t":"SLS","p":"MGLS","v":0},{"t":"SLS","p":"MCR","v":0},{"t":"SLS","p":"MNLB","v":0},{"t":"SLS","p":"MH","v":0},{"t":"SLS","p":"GBR","v":1},{"t":"SLS","p":"GBM","v":0},{"t":"SLS","p":"GLB","v":0},{"t":"SLS","p":"GH","v":0},{"t":"SLS","p":"PBS","v":1},{"t":"SLS","p":"PH","v":0},{"t":"SLS","p":"Po-EB","v":0},{"t":"SLS","p":"Po-LB","v":0},{"t":"SLS","p":"Po-H","v":0},{"t":"SLS","p":"BS","v":0},{"t":"SLS","p":"H","v":0},{"t":"SLS","p":"BH","v":0},{"t":"SLS","p":"OH","v":0},{"t":"SLS","p":"RH","v":0},{"t":"SLS","p":"SH","v":2},{"t":"SLS","p":"SPM","v":3},{"t":"SLS","p":"SLS","v":209},{"t":"SLS","p":"St-H","v":1},{"t":"SLS","p":"TBS","v":1},{"t":"SLS","p":"TEB","v":0},{"t":"SLS","p":"TLB","v":0},{"t":"SLS","p":"TLM","v":0},{"t":"SLS","p":"TSLS","v":0},{"t":"SLS","p":"TSM","v":0},{"t":"SLS","p":"TTS","v":1},{"t":"SLS","p":"TMV","v":1},{"t":"SLS","p":"TYLCV","v":0},{"t":"SLS","p":"TH","v":2},
{"t":"St-H","p":"AS","v":0},{"t":"St-H","p":"ABR","v":0},{"t":"St-H","p":"ACAR","v":0},{"t":"St-H","p":"AH","v":2},{"t":"St-H","p":"CPM","v":0},{"t":"St-H","p":"CH","v":2},{"t":"St-H","p":"MGLS","v":0},{"t":"St-H","p":"MCR","v":0},{"t":"St-H","p":"MNLB","v":0},{"t":"St-H","p":"MH","v":1},{"t":"St-H","p":"GBR","v":0},{"t":"St-H","p":"GBM","v":0},{"t":"St-H","p":"GLB","v":0},{"t":"St-H","p":"GH","v":0},{"t":"St-H","p":"PBS","v":0},{"t":"St-H","p":"PH","v":2},{"t":"St-H","p":"Po-EB","v":0},{"t":"St-H","p":"Po-LB","v":0},{"t":"St-H","p":"Po-H","v":3},{"t":"St-H","p":"BS","v":0},{"t":"St-H","p":"H","v":0},{"t":"St-H","p":"BH","v":0},{"t":"St-H","p":"OH","v":0},{"t":"St-H","p":"RH","v":2},{"t":"St-H","p":"SH","v":2},{"t":"St-H","p":"SPM","v":0},{"t":"St-H","p":"SLS","v":0},{"t":"St-H","p":"St-H","v":441},{"t":"St-H","p":"TBS","v":0},{"t":"St-H","p":"TEB","v":0},{"t":"St-H","p":"TLB","v":0},{"t":"St-H","p":"TLM","v":0},{"t":"St-H","p":"TSLS","v":1},{"t":"St-H","p":"TSM","v":0},{"t":"St-H","p":"TTS","v":0},{"t":"St-H","p":"TMV","v":0},{"t":"St-H","p":"TYLCV","v":0},{"t":"St-H","p":"TH","v":0},
{"t":"TBS","p":"AS","v":0},{"t":"TBS","p":"ABR","v":1},{"t":"TBS","p":"ACAR","v":0},{"t":"TBS","p":"AH","v":0},{"t":"TBS","p":"CPM","v":0},{"t":"TBS","p":"CH","v":0},{"t":"TBS","p":"MGLS","v":0},{"t":"TBS","p":"MCR","v":1},{"t":"TBS","p":"MNLB","v":0},{"t":"TBS","p":"MH","v":0},{"t":"TBS","p":"GBR","v":0},{"t":"TBS","p":"GBM","v":0},{"t":"TBS","p":"GLB","v":0},{"t":"TBS","p":"GH","v":1},{"t":"TBS","p":"PBS","v":0},{"t":"TBS","p":"PH","v":0},{"t":"TBS","p":"Po-EB","v":0},{"t":"TBS","p":"Po-LB","v":1},{"t":"TBS","p":"Po-H","v":1},{"t":"TBS","p":"BS","v":0},{"t":"TBS","p":"H","v":0},{"t":"TBS","p":"BH","v":0},{"t":"TBS","p":"OH","v":1},{"t":"TBS","p":"RH","v":0},{"t":"TBS","p":"SH","v":0},{"t":"TBS","p":"SPM","v":0},{"t":"TBS","p":"SLS","v":0},{"t":"TBS","p":"St-H","v":0},{"t":"TBS","p":"TBS","v":392},{"t":"TBS","p":"TEB","v":5},{"t":"TBS","p":"TLB","v":2},{"t":"TBS","p":"TLM","v":3},{"t":"TBS","p":"TSLS","v":2},{"t":"TBS","p":"TSM","v":2},{"t":"TBS","p":"TTS","v":3},{"t":"TBS","p":"TMV","v":2},{"t":"TBS","p":"TYLCV","v":1},{"t":"TBS","p":"TH","v":5},
{"t":"TEB","p":"AS","v":0},{"t":"TEB","p":"ABR","v":0},{"t":"TEB","p":"ACAR","v":0},{"t":"TEB","p":"AH","v":0},{"t":"TEB","p":"CPM","v":0},{"t":"TEB","p":"CH","v":0},{"t":"TEB","p":"MGLS","v":0},{"t":"TEB","p":"MCR","v":0},{"t":"TEB","p":"MNLB","v":0},{"t":"TEB","p":"MH","v":0},{"t":"TEB","p":"GBR","v":0},{"t":"TEB","p":"GBM","v":0},{"t":"TEB","p":"GLB","v":0},{"t":"TEB","p":"GH","v":0},{"t":"TEB","p":"PBS","v":0},{"t":"TEB","p":"PH","v":0},{"t":"TEB","p":"Po-EB","v":0},{"t":"TEB","p":"Po-LB","v":0},{"t":"TEB","p":"Po-H","v":0},{"t":"TEB","p":"BS","v":0},{"t":"TEB","p":"H","v":1},{"t":"TEB","p":"BH","v":0},{"t":"TEB","p":"OH","v":0},{"t":"TEB","p":"RH","v":0},{"t":"TEB","p":"SH","v":0},{"t":"TEB","p":"SPM","v":0},{"t":"TEB","p":"SLS","v":1},{"t":"TEB","p":"St-H","v":0},{"t":"TEB","p":"TBS","v":0},{"t":"TEB","p":"TEB","v":178},{"t":"TEB","p":"TLB","v":1},{"t":"TEB","p":"TLM","v":1},{"t":"TEB","p":"TSLS","v":2},{"t":"TEB","p":"TSM","v":0},{"t":"TEB","p":"TTS","v":3},{"t":"TEB","p":"TMV","v":5},{"t":"TEB","p":"TYLCV","v":2},{"t":"TEB","p":"TH","v":6},
{"t":"TLB","p":"AS","v":0},{"t":"TLB","p":"ABR","v":0},{"t":"TLB","p":"ACAR","v":1},{"t":"TLB","p":"AH","v":0},{"t":"TLB","p":"CPM","v":0},{"t":"TLB","p":"CH","v":1},{"t":"TLB","p":"MGLS","v":0},{"t":"TLB","p":"MCR","v":0},{"t":"TLB","p":"MNLB","v":0},{"t":"TLB","p":"MH","v":1},{"t":"TLB","p":"GBR","v":0},{"t":"TLB","p":"GBM","v":0},{"t":"TLB","p":"GLB","v":0},{"t":"TLB","p":"GH","v":0},{"t":"TLB","p":"PBS","v":1},{"t":"TLB","p":"PH","v":0},{"t":"TLB","p":"Po-EB","v":0},{"t":"TLB","p":"Po-LB","v":0},{"t":"TLB","p":"Po-H","v":1},{"t":"TLB","p":"BS","v":0},{"t":"TLB","p":"H","v":0},{"t":"TLB","p":"BH","v":0},{"t":"TLB","p":"OH","v":0},{"t":"TLB","p":"RH","v":0},{"t":"TLB","p":"SH","v":1},{"t":"TLB","p":"SPM","v":0},{"t":"TLB","p":"SLS","v":0},{"t":"TLB","p":"St-H","v":0},{"t":"TLB","p":"TBS","v":0},{"t":"TLB","p":"TEB","v":0},{"t":"TLB","p":"TLB","v":350},{"t":"TLB","p":"TLM","v":6},{"t":"TLB","p":"TSLS","v":8},{"t":"TLB","p":"TSM","v":5},{"t":"TLB","p":"TTS","v":2},{"t":"TLB","p":"TMV","v":1},{"t":"TLB","p":"TYLCV","v":2},{"t":"TLB","p":"TH","v":2},
{"t":"TLM","p":"AS","v":0},{"t":"TLM","p":"ABR","v":0},{"t":"TLM","p":"ACAR","v":0},{"t":"TLM","p":"AH","v":0},{"t":"TLM","p":"CPM","v":0},{"t":"TLM","p":"CH","v":0},{"t":"TLM","p":"MGLS","v":0},{"t":"TLM","p":"MCR","v":0},{"t":"TLM","p":"MNLB","v":0},{"t":"TLM","p":"MH","v":0},{"t":"TLM","p":"GBR","v":0},{"t":"TLM","p":"GBM","v":0},{"t":"TLM","p":"GLB","v":0},{"t":"TLM","p":"GH","v":0},{"t":"TLM","p":"PBS","v":0},{"t":"TLM","p":"PH","v":0},{"t":"TLM","p":"Po-EB","v":1},{"t":"TLM","p":"Po-LB","v":0},{"t":"TLM","p":"Po-H","v":0},{"t":"TLM","p":"BS","v":0},{"t":"TLM","p":"H","v":0},{"t":"TLM","p":"BH","v":0},{"t":"TLM","p":"OH","v":1},{"t":"TLM","p":"RH","v":0},{"t":"TLM","p":"SH","v":0},{"t":"TLM","p":"SPM","v":0},{"t":"TLM","p":"SLS","v":0},{"t":"TLM","p":"St-H","v":0},{"t":"TLM","p":"TBS","v":2},{"t":"TLM","p":"TEB","v":5},{"t":"TLM","p":"TLB","v":3},{"t":"TLM","p":"TLM","v":165},{"t":"TLM","p":"TSLS","v":2},{"t":"TLM","p":"TSM","v":1},{"t":"TLM","p":"TTS","v":2},{"t":"TLM","p":"TMV","v":3},{"t":"TLM","p":"TYLCV","v":2},{"t":"TLM","p":"TH","v":3},
{"t":"TSLS","p":"AS","v":0},{"t":"TSLS","p":"ABR","v":0},{"t":"TSLS","p":"ACAR","v":0},{"t":"TSLS","p":"AH","v":0},{"t":"TSLS","p":"CPM","v":0},{"t":"TSLS","p":"CH","v":0},{"t":"TSLS","p":"MGLS","v":0},{"t":"TSLS","p":"MCR","v":0},{"t":"TSLS","p":"MNLB","v":0},{"t":"TSLS","p":"MH","v":0},{"t":"TSLS","p":"GBR","v":0},{"t":"TSLS","p":"GBM","v":0},{"t":"TSLS","p":"GLB","v":0},{"t":"TSLS","p":"GH","v":0},{"t":"TSLS","p":"PBS","v":0},{"t":"TSLS","p":"PH","v":0},{"t":"TSLS","p":"Po-EB","v":0},{"t":"TSLS","p":"Po-LB","v":0},{"t":"TSLS","p":"Po-H","v":0},{"t":"TSLS","p":"BS","v":1},{"t":"TSLS","p":"H","v":0},{"t":"TSLS","p":"BH","v":1},{"t":"TSLS","p":"OH","v":0},{"t":"TSLS","p":"RH","v":0},{"t":"TSLS","p":"SH","v":0},{"t":"TSLS","p":"SPM","v":1},{"t":"TSLS","p":"SLS","v":0},{"t":"TSLS","p":"St-H","v":0},{"t":"TSLS","p":"TBS","v":2},{"t":"TSLS","p":"TEB","v":5},{"t":"TSLS","p":"TLB","v":5},{"t":"TSLS","p":"TLM","v":2},{"t":"TSLS","p":"TSLS","v":321},{"t":"TSLS","p":"TSM","v":6},{"t":"TSLS","p":"TTS","v":4},{"t":"TSLS","p":"TMV","v":2},{"t":"TSLS","p":"TYLCV","v":0},{"t":"TSLS","p":"TH","v":4},
{"t":"TSM","p":"AS","v":0},{"t":"TSM","p":"ABR","v":1},{"t":"TSM","p":"ACAR","v":1},{"t":"TSM","p":"AH","v":1},{"t":"TSM","p":"CPM","v":0},{"t":"TSM","p":"CH","v":0},{"t":"TSM","p":"MGLS","v":0},{"t":"TSM","p":"MCR","v":1},{"t":"TSM","p":"MNLB","v":0},{"t":"TSM","p":"MH","v":0},{"t":"TSM","p":"GBR","v":0},{"t":"TSM","p":"GBM","v":1},{"t":"TSM","p":"GLB","v":1},{"t":"TSM","p":"GH","v":1},{"t":"TSM","p":"PBS","v":0},{"t":"TSM","p":"PH","v":0},{"t":"TSM","p":"Po-EB","v":0},{"t":"TSM","p":"Po-LB","v":0},{"t":"TSM","p":"Po-H","v":0},{"t":"TSM","p":"BS","v":0},{"t":"TSM","p":"H","v":0},{"t":"TSM","p":"BH","v":0},{"t":"TSM","p":"OH","v":0},{"t":"TSM","p":"RH","v":1},{"t":"TSM","p":"SH","v":0},{"t":"TSM","p":"SPM","v":0},{"t":"TSM","p":"SLS","v":0},{"t":"TSM","p":"St-H","v":0},{"t":"TSM","p":"TBS","v":1},{"t":"TSM","p":"TEB","v":2},{"t":"TSM","p":"TLB","v":1},{"t":"TSM","p":"TLM","v":1},{"t":"TSM","p":"TSLS","v":2},{"t":"TSM","p":"TSM","v":312},{"t":"TSM","p":"TTS","v":2},{"t":"TSM","p":"TMV","v":3},{"t":"TSM","p":"TYLCV","v":2},{"t":"TSM","p":"TH","v":1},
{"t":"TTS","p":"AS","v":1},{"t":"TTS","p":"ABR","v":0},{"t":"TTS","p":"ACAR","v":0},{"t":"TTS","p":"AH","v":0},{"t":"TTS","p":"CPM","v":0},{"t":"TTS","p":"CH","v":0},{"t":"TTS","p":"MGLS","v":0},{"t":"TTS","p":"MCR","v":0},{"t":"TTS","p":"MNLB","v":0},{"t":"TTS","p":"MH","v":1},{"t":"TTS","p":"GBR","v":0},{"t":"TTS","p":"GBM","v":0},{"t":"TTS","p":"GLB","v":0},{"t":"TTS","p":"GH","v":0},{"t":"TTS","p":"PBS","v":0},{"t":"TTS","p":"PH","v":1},{"t":"TTS","p":"Po-EB","v":0},{"t":"TTS","p":"Po-LB","v":0},{"t":"TTS","p":"Po-H","v":1},{"t":"TTS","p":"BS","v":1},{"t":"TTS","p":"H","v":1},{"t":"TTS","p":"BH","v":0},{"t":"TTS","p":"OH","v":0},{"t":"TTS","p":"RH","v":0},{"t":"TTS","p":"SH","v":1},{"t":"TTS","p":"SPM","v":0},{"t":"TTS","p":"SLS","v":1},{"t":"TTS","p":"St-H","v":0},{"t":"TTS","p":"TBS","v":0},{"t":"TTS","p":"TEB","v":2},{"t":"TTS","p":"TLB","v":3},{"t":"TTS","p":"TLM","v":1},{"t":"TTS","p":"TSLS","v":3},{"t":"TTS","p":"TSM","v":5},{"t":"TTS","p":"TTS","v":253},{"t":"TTS","p":"TMV","v":1},{"t":"TTS","p":"TYLCV","v":2},{"t":"TTS","p":"TH","v":3},
{"t":"TMV","p":"AS","v":0},{"t":"TMV","p":"ABR","v":0},{"t":"TMV","p":"ACAR","v":0},{"t":"TMV","p":"AH","v":0},{"t":"TMV","p":"CPM","v":0},{"t":"TMV","p":"CH","v":0},{"t":"TMV","p":"MGLS","v":0},{"t":"TMV","p":"MCR","v":0},{"t":"TMV","p":"MNLB","v":0},{"t":"TMV","p":"MH","v":0},{"t":"TMV","p":"GBR","v":0},{"t":"TMV","p":"GBM","v":0},{"t":"TMV","p":"GLB","v":0},{"t":"TMV","p":"GH","v":0},{"t":"TMV","p":"PBS","v":0},{"t":"TMV","p":"PH","v":0},{"t":"TMV","p":"Po-EB","v":0},{"t":"TMV","p":"Po-LB","v":0},{"t":"TMV","p":"Po-H","v":0},{"t":"TMV","p":"BS","v":0},{"t":"TMV","p":"H","v":0},{"t":"TMV","p":"BH","v":0},{"t":"TMV","p":"OH","v":0},{"t":"TMV","p":"RH","v":0},{"t":"TMV","p":"SH","v":0},{"t":"TMV","p":"SPM","v":0},{"t":"TMV","p":"SLS","v":0},{"t":"TMV","p":"St-H","v":0},{"t":"TMV","p":"TBS","v":0},{"t":"TMV","p":"TEB","v":2},{"t":"TMV","p":"TLB","v":3},{"t":"TMV","p":"TLM","v":5},{"t":"TMV","p":"TSLS","v":6},{"t":"TMV","p":"TSM","v":5},{"t":"TMV","p":"TTS","v":3},{"t":"TMV","p":"TMV","v":332},{"t":"TMV","p":"TYLCV","v":5},{"t":"TMV","p":"TH","v":6},
{"t":"TYLCV","p":"AS","v":0},{"t":"TYLCV","p":"ABR","v":1},{"t":"TYLCV","p":"ACAR","v":1},{"t":"TYLCV","p":"AH","v":0},{"t":"TYLCV","p":"CPM","v":0},{"t":"TYLCV","p":"CH","v":0},{"t":"TYLCV","p":"MGLS","v":2},{"t":"TYLCV","p":"MCR","v":0},{"t":"TYLCV","p":"MNLB","v":0},{"t":"TYLCV","p":"MH","v":1},{"t":"TYLCV","p":"GBR","v":0},{"t":"TYLCV","p":"GBM","v":5},{"t":"TYLCV","p":"GLB","v":0},{"t":"TYLCV","p":"GH","v":0},{"t":"TYLCV","p":"PBS","v":5},{"t":"TYLCV","p":"PH","v":0},{"t":"TYLCV","p":"Po-EB","v":0},{"t":"TYLCV","p":"Po-LB","v":0},{"t":"TYLCV","p":"Po-H","v":5},{"t":"TYLCV","p":"BS","v":1},{"t":"TYLCV","p":"H","v":1},{"t":"TYLCV","p":"BH","v":1},{"t":"TYLCV","p":"OH","v":0},{"t":"TYLCV","p":"RH","v":0},{"t":"TYLCV","p":"SH","v":2},{"t":"TYLCV","p":"SPM","v":0},{"t":"TYLCV","p":"SLS","v":0},{"t":"TYLCV","p":"St-H","v":0},{"t":"TYLCV","p":"TBS","v":2},{"t":"TYLCV","p":"TEB","v":7},{"t":"TYLCV","p":"TLB","v":5},{"t":"TYLCV","p":"TLM","v":6},{"t":"TYLCV","p":"TSLS","v":5},{"t":"TYLCV","p":"TSM","v":7},{"t":"TYLCV","p":"TTS","v":8},{"t":"TYLCV","p":"TMV","v":6},{"t":"TYLCV","p":"TYLCV","v":978},{"t":"TYLCV","p":"TH","v":22},
{"t":"TH","p":"AS","v":1},{"t":"TH","p":"ABR","v":0},{"t":"TH","p":"ACAR","v":0},{"t":"TH","p":"AH","v":1},{"t":"TH","p":"CPM","v":0},{"t":"TH","p":"CH","v":1},{"t":"TH","p":"MGLS","v":0},{"t":"TH","p":"MCR","v":0},{"t":"TH","p":"MNLB","v":1},{"t":"TH","p":"MH","v":0},{"t":"TH","p":"GBR","v":2},{"t":"TH","p":"GBM","v":0},{"t":"TH","p":"GLB","v":1},{"t":"TH","p":"GH","v":0},{"t":"TH","p":"PBS","v":0},{"t":"TH","p":"PH","v":1},{"t":"TH","p":"Po-EB","v":1},{"t":"TH","p":"Po-LB","v":0},{"t":"TH","p":"Po-H","v":0},{"t":"TH","p":"BS","v":0},{"t":"TH","p":"H","v":2},{"t":"TH","p":"BH","v":0},{"t":"TH","p":"OH","v":2},{"t":"TH","p":"RH","v":1},{"t":"TH","p":"SH","v":0},{"t":"TH","p":"SPM","v":0},{"t":"TH","p":"SLS","v":2},{"t":"TH","p":"St-H","v":0},{"t":"TH","p":"TBS","v":1},{"t":"TH","p":"TEB","v":2},{"t":"TH","p":"TLB","v":4},{"t":"TH","p":"TLM","v":1},{"t":"TH","p":"TSLS","v":2},{"t":"TH","p":"TSM","v":5},{"t":"TH","p":"TTS","v":4},{"t":"TH","p":"TMV","v":5},{"t":"TH","p":"TYLCV","v":3},{"t":"TH","p":"TH","v":275}
]},
"layer": [
  {"mark": {"type": "rect"},
   "encoding": {
     "x": {"field": "p", "type": "nominal",
       "sort": ["AS","ABR","ACAR","AH","CPM","CH","MGLS","MCR","MNLB","MH","GBR","GBM","GLB","GH","PBS","PH","Po-EB","Po-LB","Po-H","BS","H","BH","OH","RH","SH","SPM","SLS","St-H","TBS","TEB","TLB","TLM","TSLS","TSM","TTS","TMV","TYLCV","TH"],
       "scale": {"paddingInner": 0, "paddingOuter": 0},
       "axis": {"orient": "bottom", "title": "Predicted label", "labelAngle": -45, "labelAlign": "right", "labelBaseline": "top", "labelPadding": 3, "tickSize": 3, "labelOverlap": false, "titleY": 45, "titleBaseline": "alphabetic", "domain": true, "zindex": 1}},
     "y": {"field": "t", "type": "nominal",
       "sort": ["AS","ABR","ACAR","AH","CPM","CH","MGLS","MCR","MNLB","MH","GBR","GBM","GLB","GH","PBS","PH","Po-EB","Po-LB","Po-H","BS","H","BH","OH","RH","SH","SPM","SLS","St-H","TBS","TEB","TLB","TLM","TSLS","TSM","TTS","TMV","TYLCV","TH"],
       "scale": {"paddingInner": 0, "paddingOuter": 0},
       "axis": {"orient": "left", "title": "True label", "tickSize": 3, "labelPadding": 3, "labelOverlap": false, "titleX": -44, "titleBaseline": "middle", "domain": true, "zindex": 1}},
     "color": {"field": "v", "type": "quantitative",
       "scale": {"domain": [0, 136.875, 273.75, 410.625, 547.5, 684.375, 821.25, 958.125, 1095], "range": ["#ffffcc", "#ffeda0", "#fed976", "#feb24c", "#fd8d3c", "#fc4e2a", "#e31a1c", "#bd0026", "#800026"], "interpolate": "rgb"},
       "legend": {"title": null, "orient": "none", "legendX": 857, "legendY": -115, "direction": "vertical", "gradientLength": 1035, "gradientThickness": 52, "gradientStrokeColor": "#333", "gradientStrokeWidth": 1, "values": [0, 200, 400, 600, 800, 1000], "format": "d", "labelFontSize": 8, "labelColor": "black", "labelOffset": 7, "labelOverlap": false, "labelBaseline": "middle", "padding": 0}}}},
  {"mark": {"type": "text", "fontSize": 8.5},
   "encoding": {
     "x": {"field": "p", "type": "nominal",
       "sort": ["AS","ABR","ACAR","AH","CPM","CH","MGLS","MCR","MNLB","MH","GBR","GBM","GLB","GH","PBS","PH","Po-EB","Po-LB","Po-H","BS","H","BH","OH","RH","SH","SPM","SLS","St-H","TBS","TEB","TLB","TLM","TSLS","TSM","TTS","TMV","TYLCV","TH"],
       "axis": {"orient": "top", "labels": false, "ticks": false, "title": null, "domain": true, "zindex": 1}},
     "y": {"field": "t", "type": "nominal",
       "sort": ["AS","ABR","ACAR","AH","CPM","CH","MGLS","MCR","MNLB","MH","GBR","GBM","GLB","GH","PBS","PH","Po-EB","Po-LB","Po-H","BS","H","BH","OH","RH","SH","SPM","SLS","St-H","TBS","TEB","TLB","TLM","TSLS","TSM","TTS","TMV","TYLCV","TH"],
       "axis": {"orient": "right", "labels": false, "ticks": false, "title": null, "domain": true, "zindex": 1}},
     "text": {"field": "v", "type": "quantitative", "format": "d"},
     "color": {"condition": {"test": "datum.v > 547.5", "value": "white"}, "value": "black"}}}
],
"resolve": {"axis": {"x": "independent", "y": "independent"}},
"config": {
  "font": "DejaVu Sans",
  "view": {"stroke": null},
  "axis": {"domainColor": "black", "domainWidth": 1, "tickColor": "black", "labelColor": "black", "labelFontSize": 8, "titleFontSize": 12, "titleFontWeight": "normal", "titleColor": "black", "labelFont": "DejaVu Sans", "titleFont": "DejaVu Sans", "grid": false},
  "legend": {"labelFont": "DejaVu Sans"}
}
}
